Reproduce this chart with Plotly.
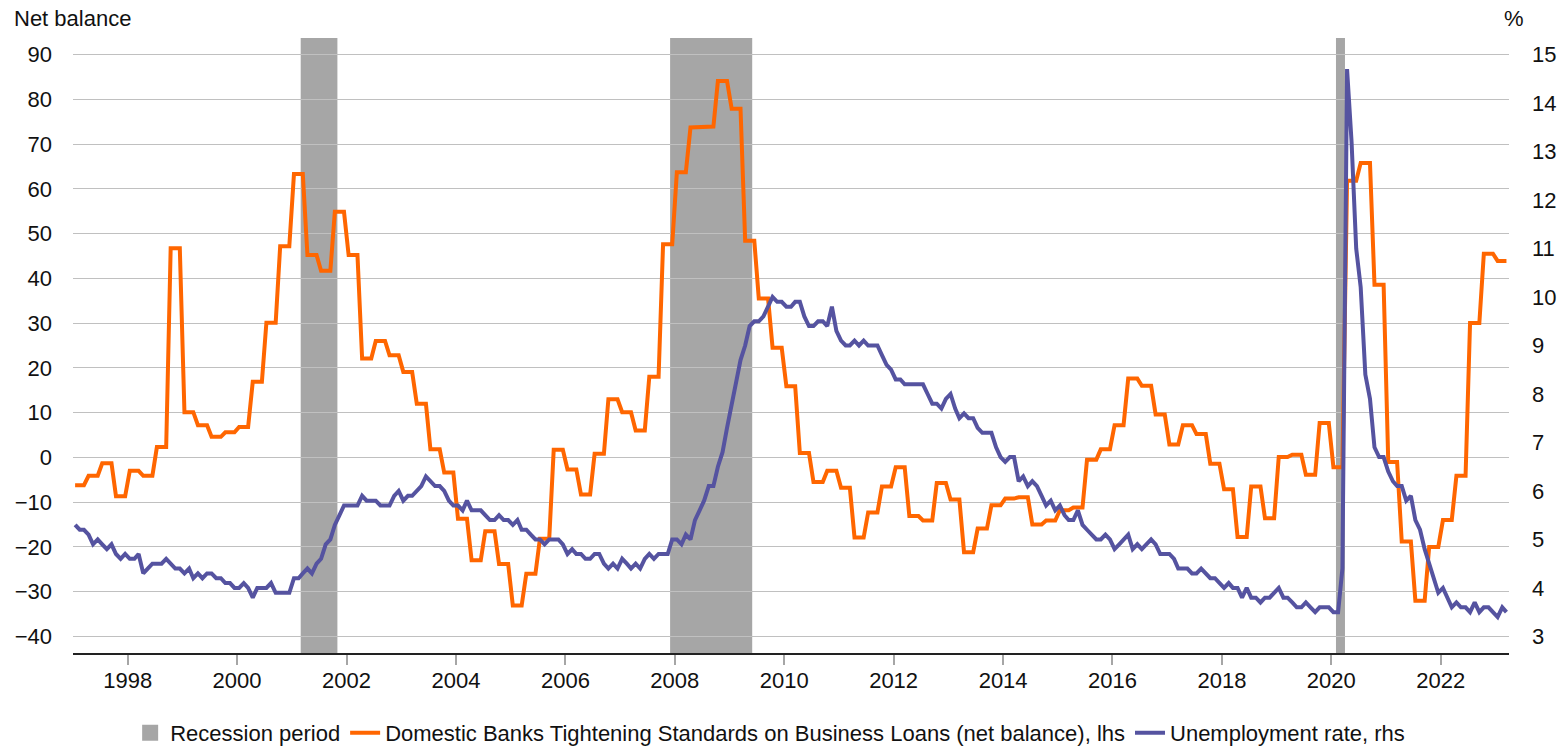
import pandas as pd
import plotly.graph_objects as go

# ---------------- data ----------------
# Monthly unemployment rate (%), Jan 1997 - Mar 2023 (rhs)
unemployment = [
    5.3, 5.2, 5.2, 5.1, 4.9, 5.0, 4.9, 4.8, 4.9, 4.7, 4.6, 4.7,   # 1997
    4.6, 4.6, 4.7, 4.3, 4.4, 4.5, 4.5, 4.5, 4.6, 4.5, 4.4, 4.4,   # 1998
    4.3, 4.4, 4.2, 4.3, 4.2, 4.3, 4.3, 4.2, 4.2, 4.1, 4.1, 4.0,   # 1999
    4.0, 4.1, 4.0, 3.8, 4.0, 4.0, 4.0, 4.1, 3.9, 3.9, 3.9, 3.9,   # 2000
    4.2, 4.2, 4.3, 4.4, 4.3, 4.5, 4.6, 4.9, 5.0, 5.3, 5.5, 5.7,   # 2001
    5.7, 5.7, 5.7, 5.9, 5.8, 5.8, 5.8, 5.7, 5.7, 5.7, 5.9, 6.0,   # 2002
    5.8, 5.9, 5.9, 6.0, 6.1, 6.3, 6.2, 6.1, 6.1, 6.0, 5.8, 5.7,   # 2003
    5.7, 5.6, 5.8, 5.6, 5.6, 5.6, 5.5, 5.4, 5.4, 5.5, 5.4, 5.4,   # 2004
    5.3, 5.4, 5.2, 5.2, 5.1, 5.0, 5.0, 4.9, 5.0, 5.0, 5.0, 4.9,   # 2005
    4.7, 4.8, 4.7, 4.7, 4.6, 4.6, 4.7, 4.7, 4.5, 4.4, 4.5, 4.4,   # 2006
    4.6, 4.5, 4.4, 4.5, 4.4, 4.6, 4.7, 4.6, 4.7, 4.7, 4.7, 5.0,   # 2007
    5.0, 4.9, 5.1, 5.0, 5.4, 5.6, 5.8, 6.1, 6.1, 6.5, 6.8, 7.3,   # 2008
    7.8, 8.3, 8.7, 9.0, 9.4, 9.5, 9.5, 9.6, 9.8, 10.0, 9.9, 9.9,  # 2009
    9.8, 9.8, 9.9, 9.9, 9.6, 9.4, 9.4, 9.5, 9.5, 9.4, 9.8, 9.3,   # 2010
    9.1, 9.0, 9.0, 9.1, 9.0, 9.1, 9.0, 9.0, 9.0, 8.8, 8.6, 8.5,   # 2011
    8.3, 8.3, 8.2, 8.2, 8.2, 8.2, 8.2, 8.0, 7.8, 7.8, 7.7, 7.9,   # 2012
    8.0, 7.7, 7.5, 7.6, 7.5, 7.5, 7.3, 7.2, 7.2, 7.2, 6.9, 6.7,   # 2013
    6.6, 6.7, 6.7, 6.2, 6.3, 6.1, 6.2, 6.1, 5.9, 5.7, 5.8, 5.6,   # 2014
    5.7, 5.5, 5.4, 5.4, 5.6, 5.3, 5.2, 5.1, 5.0, 5.0, 5.1, 5.0,   # 2015
    4.8, 4.9, 5.0, 5.1, 4.8, 4.9, 4.8, 4.9, 5.0, 4.9, 4.7, 4.7,   # 2016
    4.7, 4.6, 4.4, 4.4, 4.4, 4.3, 4.3, 4.4, 4.3, 4.2, 4.2, 4.1,   # 2017
    4.0, 4.1, 4.0, 4.0, 3.8, 4.0, 3.8, 3.8, 3.7, 3.8, 3.8, 3.9,   # 2018
    4.0, 3.8, 3.8, 3.7, 3.6, 3.6, 3.7, 3.6, 3.5, 3.6, 3.6, 3.6,   # 2019
    3.5, 3.5, 4.4, 14.7, 13.2, 11.0, 10.2, 8.4, 7.9, 6.9, 6.7, 6.7,  # 2020
    6.4, 6.2, 6.1, 6.1, 5.8, 5.9, 5.4, 5.2, 4.8, 4.5, 4.2, 3.9,   # 2021
    4.0, 3.8, 3.6, 3.7, 3.6, 3.6, 3.5, 3.7, 3.5, 3.6, 3.6, 3.5,   # 2022
    3.4, 3.6, 3.5,                                                # 2023
]

# Quarterly net balance of banks tightening standards, 1997Q1 - 2023Q1 (lhs)
tightening_quarterly = [
    -6.2, -4.1, -1.3, -8.7,      # 1997
    -3.0, -4.1, 2.3, 46.7,       # 1998
    10.1, 7.2, 4.6, 5.6,         # 1999
    6.8, 16.9, 30.1, 47.2,       # 2000
    63.3, 45.2, 41.7, 54.9,      # 2001
    45.2, 22.1, 26.0, 22.8,      # 2002
    19.1, 12.0, 1.8, -3.4,       # 2003
    -13.7, -23.0, -16.5, -23.8,  # 2004
    -33.1, -26.0, -18.2, 1.7,    # 2005
    -2.7, -8.3, 0.8, 13.0,       # 2006
    10.1, 6.0, 18.0, 47.6,       # 2007
    63.7, 73.7, 73.9, 84.1,      # 2008
    77.9, 48.4, 35.5, 24.5,      # 2009
    15.9, 1.0, -5.5, -3.0,       # 2010
    -6.8, -17.9, -12.3, -6.5,    # 2011
    -2.2, -13.1, -14.1, -5.7,    # 2012
    -9.4, -21.2, -15.9, -10.7,   # 2013
    -9.2, -8.9, -15.0, -14.1,    # 2014
    -11.8, -11.2, -0.5, 1.8,     # 2015
    7.2, 17.6, 16.0, 9.6,        # 2016
    2.9, 7.2, 5.2, -1.4,         # 2017
    -7.1, -17.8, -6.5, -13.6,    # 2018
    0.1, 0.6, -3.9, 7.7,         # 2019
    -2.2, 61.8, 65.8, 38.6,      # 2020
    -1.0, -18.8, -32.0, -20.0,   # 2021
    -14.0, -4.1, 30.0, 45.5,     # 2022
    43.9,                        # 2023
]

recession_starts = ["2001-03-01", "2007-12-01", "2020-02-01"]
recession_ends = ["2001-11-01", "2009-06-01", "2020-04-01"]

tick_years = [str(y) for y in range(1998, 2023, 2)]
left_ticks = list(range(-40, 91, 10))
right_ticks = list(range(3, 16))

series_names = [
    "Recession period",
    "Domestic Banks Tightening Standards on Business Loans (net balance), lhs",
    "Unemployment rate, rhs",
]

# ---------------- build ----------------
months = pd.date_range("1997-01-01", periods=len(unemployment), freq="MS") + pd.Timedelta(days=14)
# each quarterly survey value applies to the three months of its quarter
tightening_monthly = [v for v in tightening_quarterly for _ in range(3)]

ORANGE = "#ff6600"
PURPLE = "#5553a0"
GREY = "#a6a6a6"
FONT = "Liberation Sans, Arial, sans-serif"
FS = 22

fig = go.Figure()

# legend entry for recession shading
fig.add_trace(go.Scatter(
    x=[None], y=[None], mode="markers", name=series_names[0],
    marker=dict(symbol="square", size=18, color=GREY),
))
fig.add_trace(go.Scatter(
    x=months, y=tightening_monthly, mode="lines", name=series_names[1],
    line=dict(color=ORANGE, width=4), yaxis="y",
))
fig.add_trace(go.Scatter(
    x=months, y=unemployment, mode="lines", name=series_names[2],
    line=dict(color=PURPLE, width=4), yaxis="y2",
))

for s, e in zip(recession_starts, recession_ends):
    fig.add_shape(type="rect", xref="x", yref="paper", x0=s, x1=e, y0=0, y1=1,
                  fillcolor=GREY, line=dict(width=0), layer="between")

fig.update_layout(
    width=1559, height=746,
    margin=dict(l=73, r=50, t=38, b=93, autoexpand=False),
    paper_bgcolor="white", plot_bgcolor="white",
    font=dict(family=FONT, size=FS, color="#111111"),
    showlegend=True,
    legend=dict(
        orientation="h", xref="container", yref="container",
        x=0.494, xanchor="center", y=0.0175, yanchor="middle",
        font=dict(size=FS), itemwidth=30, traceorder="normal",
    ),
    xaxis=dict(
        type="date", range=["1997-01-01", "2023-04-01"],
        tickvals=[f"{y}-01-01" for y in tick_years], ticktext=tick_years,
        showgrid=False, zeroline=False, automargin=False,
        showline=True, linecolor="#222222", linewidth=1.5,
        ticks="outside", ticklen=10, tickwidth=1.5, tickcolor="#a6a6a6",
        ticklabelstandoff=-3,
    ),
    yaxis=dict(
        range=[-43.7, 93.7], tickvals=left_ticks, automargin=False,
        showgrid=True, gridcolor="#c0c0c0", gridwidth=1,
        zeroline=False, showline=False, ticks="",
        ticklabelstandoff=20,
    ),
    yaxis2=dict(
        range=[2.658, 15.342], tickvals=right_ticks, automargin=False,
        overlaying="y", side="right",
        showgrid=False, zeroline=False, showline=False, ticks="",
        ticklabelstandoff=22,
    ),
    annotations=[
        dict(text="Net balance", xref="paper", yref="paper",
             x=(12 - 73) / 1436, y=(653 - 18) / 615, xanchor="left", yanchor="middle",
             showarrow=False, font=dict(size=FS)),
        dict(text="%", xref="paper", yref="paper",
             x=(1502 - 73) / 1436, y=(653 - 18) / 615, xanchor="left", yanchor="middle",
             showarrow=False, font=dict(size=FS)),
    ],
)

fig.write_html("out.html", config={"displayModeBar": False},
               post_script="document.body.style.margin='0';")
